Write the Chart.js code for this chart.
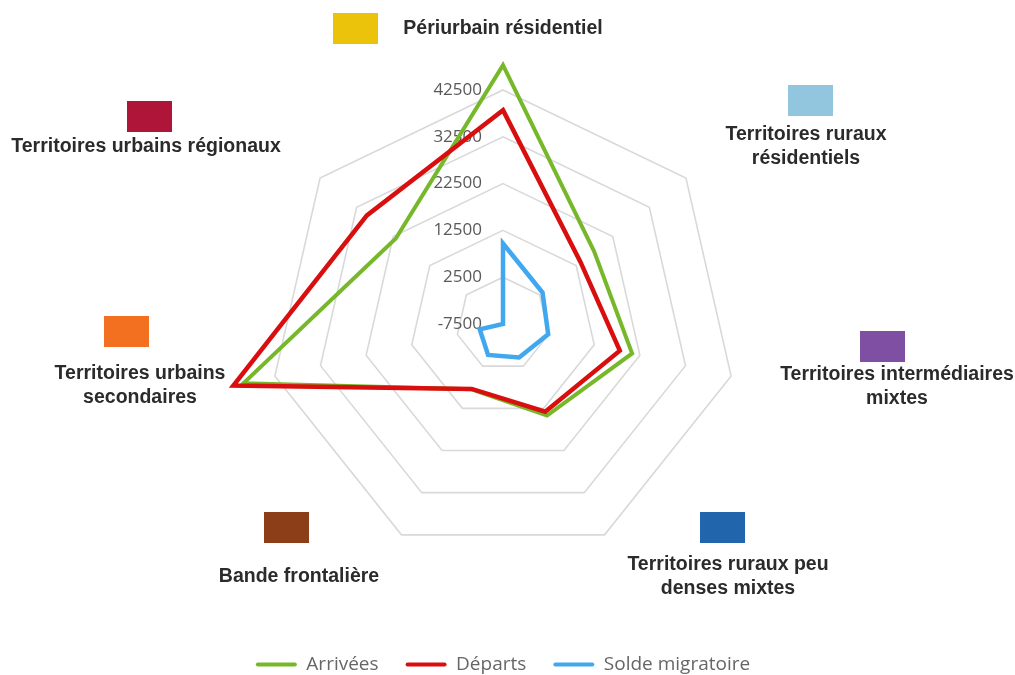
<!DOCTYPE html>
<html lang="fr">
<head>
<meta charset="utf-8">
<title>Arrivées, départs et solde migratoire par type de territoire</title>
<script src="https://cdn.jsdelivr.net/npm/chart.js@4"></script>
<style>
    html, body { margin: 0; padding: 0; background: #fff; overflow: hidden; }
    #wrap { position: relative; width: 1015px; height: 684px; }
</style>
</head>
<body>
<div id="wrap"><canvas id="radarChart"></canvas></div>
<script>
// Categories (clockwise from the top)
const categories = [
    'Périurbain résidentiel',
    ['Territoires ruraux', 'résidentiels'],
    ['Territoires intermédiaires', 'mixtes'],
    ['Territoires ruraux peu', 'denses mixtes'],
    'Bande frontalière',
    ['Territoires urbains', 'secondaires'],
    'Territoires urbains régionaux'
];

// Series values
const arrivees = [47800, 17400, 20800, 14200, 8000, 49400, 21800];
const departs = [38200, 13700, 18100, 13300, 7900, 51600, 29700];
const solde = [9700, 3300, 2400, 450, -150, -2400, -7500];

// Radial axis ticks
const tickValues = [-7500, 2500, 12500, 22500, 32500, 42500];

// Colour squares next to each category name
const categoryColors = ['#ECC30B', '#92C5DE', '#7F4FA3', '#2166AC', '#8B3E18', '#F37021', '#AE1538'];

// Where each category name sits, relative to the radar centre:
// tx/ty = centre of the first text line, bx/by = top-left of the colour square
const labelPlacement = [
    { tx: 0,    ty: -295, bx: -170, by: -311 },
    { tx: 303,  ty: -189, bx: 285,  by: -239 },
    { tx: 394,  ty: 51,   bx: 357,  by: 7 },
    { tx: 225,  ty: 241,  bx: 197,  by: 188 },
    { tx: -204, ty: 253,  bx: -239, by: 188 },
    { tx: -363, ty: 50,   bx: -399, by: -8 },
    { tx: -357, ty: -177, bx: -376, by: -223 }
];

// tick labels sit left of the vertical axis, under the lines
const tickLabels = {
    id: 'tickLabels',
    beforeDatasetsDraw(chart) {
        const r = chart.scales.r;
        const ctx = chart.ctx;
        ctx.save();
        ctx.font = '17px "Open Sans"';
        ctx.fillStyle = '#595959';
        ctx.textAlign = 'right';
        ctx.textBaseline = 'middle';
        r.ticks.forEach(t => {
            const y = r.yCenter - r.getDistanceFromCenterForValue(t.value);
            ctx.fillText(String(t.value), r.xCenter - 21, y);
        });
        ctx.restore();
    }
};

// category names with their colour squares
const categoryLabels = {
    id: 'categoryLabels',
    afterDraw(chart) {
        const r = chart.scales.r;
        const ctx = chart.ctx;
        ctx.save();
        ctx.font = 'bold 19.5px "Liberation Sans"';
        ctx.textAlign = 'center';
        ctx.textBaseline = 'middle';
        chart.data.labels.forEach((label, i) => {
            const p = labelPlacement[i];
            ctx.fillStyle = categoryColors[i];
            ctx.fillRect(r.xCenter + p.bx, r.yCenter + p.by, 45, 31);
            ctx.fillStyle = '#2b2b2b';
            const lines = Array.isArray(label) ? label : [label];
            lines.forEach((line, k) => {
                ctx.fillText(line, r.xCenter + p.tx, r.yCenter + p.ty + k * 24);
            });
        });
        ctx.restore();
    }
};

const ctx = document.getElementById('radarChart').getContext('2d');

new Chart(ctx, {
    type: 'radar',
    data: {
        labels: categories,
        datasets: [
            {
                label: 'Arrivées',
                data: arrivees,
                borderColor: '#77B82B',
                borderWidth: 4,
                order: 3
            },
            {
                label: 'Départs',
                data: departs,
                borderColor: '#D90F0F',
                borderWidth: 4.5,
                order: 2
            },
            {
                label: 'Solde migratoire',
                data: solde,
                borderColor: '#41A8F0',
                borderWidth: 4.5,
                order: 1
            }
        ]
    },
    options: {
        responsive: true,
        maintainAspectRatio: false,
        animation: false,
        layout: {
            padding: { top: 90, right: 9, bottom: 0, left: 0 }
        },
        elements: {
            line: { fill: false, tension: 0 },
            point: { radius: 0, hoverRadius: 0 }
        },
        scales: {
            r: {
                min: tickValues[0],
                max: tickValues[tickValues.length - 1],
                ticks: {
                    stepSize: tickValues[1] - tickValues[0],
                    display: false
                },
                grid: { color: '#D9D9D9', lineWidth: 1.6 },
                angleLines: { display: false },
                pointLabels: { display: false }
            }
        },
        plugins: {
            tooltip: { enabled: false },
            legend: {
                position: 'bottom',
                // empty title only used as a spacer above the legend row
                title: {
                    display: true,
                    text: '',
                    font: { size: 1, lineHeight: 1 },
                    padding: { top: 69, bottom: 0 }
                },
                labels: {
                    boxWidth: 41,
                    boxHeight: 4,
                    padding: 27,
                    color: '#404040',
                    font: { family: 'Open Sans', size: 19 },
                    generateLabels(chart) {
                        return chart.data.datasets.map((ds, i) => ({
                            text: ds.label,
                            fillStyle: ds.borderColor,
                            strokeStyle: ds.borderColor,
                            lineWidth: 0,
                            borderRadius: 2,
                            datasetIndex: i,
                            hidden: !chart.isDatasetVisible(i)
                        }));
                    }
                }
            }
        }
    },
    plugins: [tickLabels, categoryLabels]
});
</script>
</body>
</html>
